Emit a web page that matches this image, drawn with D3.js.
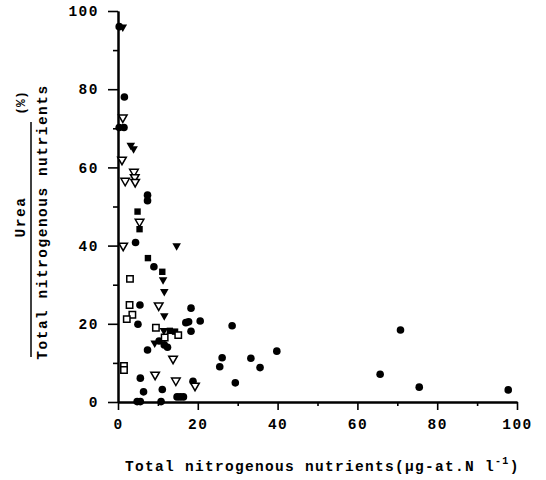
<!DOCTYPE html>
<html><head><meta charset="utf-8">
<script src="https://cdn.jsdelivr.net/npm/d3@7"></script>
<style>
body{margin:0;background:#fff;}
text{font-family:"Liberation Mono","DejaVu Sans Mono",monospace;font-weight:bold;fill:#000;}
</style></head>
<body><svg id="c" width="546" height="480"></svg>
<script>
// ---- data (x: total nitrogenous nutrients, y: urea %) ----
const filledCircles = [
  [0.3,96.0],[1.6,78.0],[0.3,70.2],[1.5,70.2],[7.4,52.9],[7.4,51.5],[4.4,40.8],[9.0,34.6],
  [5.5,24.8],[18.3,24.0],[5.0,19.9],[17.0,20.3],[17.7,20.5],[20.6,20.7],[18.3,18.1],
  [10.3,15.6],[11.6,14.6],[12.4,14.0],[7.4,13.3],[28.6,19.5],[26.1,11.3],[25.5,9.0],
  [33.3,11.2],[35.6,8.8],[39.8,13.0],[29.4,4.9],[65.7,7.1],[70.8,18.4],[75.5,3.8],[97.8,3.1],
  [5.6,6.1],[6.4,2.6],[11.1,3.2],[18.8,5.3],[4.8,0.1],[5.6,0.1],[10.8,0.1],
  [14.8,1.3],[15.6,1.3],[16.4,1.3]
];
const filledSquares = [[4.9,48.7],[5.4,44.2],[7.5,36.8],[11.1,33.3],[13.0,18.2],[14.3,18.0]];
const openSquares = [[3.0,31.5],[2.9,24.8],[3.6,22.3],[2.2,21.2],[9.5,19.0],[15.1,17.1],[11.7,16.5],[1.5,9.2],[1.5,8.2]];
const filledTriangles = [[1.2,95.6],[3.2,65.4],[3.9,64.5],[14.7,39.7],[11.3,31.0],[11.6,28.0],[11.6,21.8],[9.2,14.8],[11.5,18.0]];
const openTriangles = [[1.2,72.5],[1.0,61.7],[4.0,58.6],[4.2,57.2],[4.3,56.0],[1.8,56.3],[5.4,45.8],[1.3,39.7],[10.2,24.4],[13.8,10.8],[9.3,6.7],[14.5,5.2],[19.3,3.9]];
const xMajorTicks = [0,20,40,60,80,100];
const xMinorTicks = [10,30,50,70,90];
const yMajorTicks = [0,20,40,60,80,100];
const yMinorTicks = [10,30,50,70,90];

const svg = d3.select("#c");
const x = d3.scaleLinear().domain([0,100]).range([118,517]);
const y = d3.scaleLinear().domain([0,100]).range([402,11]);

// axes
const xAx = svg.append("g").attr("transform","translate(0,402)")
  .call(d3.axisBottom(x).tickValues(xMajorTicks).tickSize(8).tickSizeOuter(0).tickPadding(9));
svg.append("g").attr("transform","translate(0,402)")
  .call(d3.axisBottom(x).tickValues(xMinorTicks).tickSize(4).tickSizeOuter(0).tickFormat(""));
const yAx = svg.append("g").attr("transform","translate(118,0)")
  .call(d3.axisLeft(y).tickValues(yMajorTicks).tickSize(10).tickSizeOuter(0).tickPadding(9));
svg.append("g").attr("transform","translate(118,0)")
  .call(d3.axisLeft(y).tickValues(yMinorTicks).tickSize(5).tickSizeOuter(0).tickFormat(""));
svg.selectAll(".domain").attr("stroke","#000").attr("stroke-width",2);
svg.selectAll(".tick line").attr("stroke","#000").attr("stroke-width",1.6);
svg.selectAll(".tick text").style("font-size","14.5px").style("letter-spacing","1.5px");

// marks
const tri = "M-4.3,-3.6L4.3,-3.6L0,3.9Z";
const sqF = "M-3.2,-3.2h6.4v6.4h-6.4Z";
const sqO = "M-3.2,-3.2h6.4v6.4h-6.4Z";
const g = svg.append("g");
g.selectAll(".fc").data(filledCircles).join("circle")
  .attr("cx",d=>x(d[0])).attr("cy",d=>y(d[1])).attr("r",3.8).attr("fill","#000");
g.selectAll(".fs").data(filledSquares).join("path")
  .attr("d",sqF).attr("transform",d=>`translate(${x(d[0])},${y(d[1])})`).attr("fill","#000");
g.selectAll(".os").data(openSquares).join("path")
  .attr("d",sqO).attr("transform",d=>`translate(${x(d[0])},${y(d[1])})`)
  .attr("fill","#fff").attr("stroke","#000").attr("stroke-width",1.5);
g.selectAll(".ft").data(filledTriangles).join("path")
  .attr("d",tri).attr("transform",d=>`translate(${x(d[0])},${y(d[1])})`).attr("fill","#000");
g.selectAll(".ot").data(openTriangles).join("path")
  .attr("d",tri).attr("transform",d=>`translate(${x(d[0])},${y(d[1])})`)
  .attr("fill","#fff").attr("stroke","#000").attr("stroke-width",1.5);

// x label
const xl = svg.append("text").attr("x",125).attr("y",471)
  .style("font-size","14.5px").style("letter-spacing","1.3px");
xl.append("tspan").text("Total nitrogenous nutrients(μg-at.N l");
xl.append("tspan").attr("dy",-7).style("font-size","10px").text("-1");
xl.append("tspan").attr("dy",7).text(")");

// y label (fraction)
svg.append("text").attr("transform","translate(25,217) rotate(-90)")
  .attr("text-anchor","middle").style("font-size","14.5px").style("letter-spacing","1.5px").text("Urea");
svg.append("line").attr("x1",31).attr("x2",31).attr("y1",122).attr("y2",357)
  .attr("stroke","#000").attr("stroke-width",1.5);
svg.append("text").attr("transform","translate(47,222) rotate(-90)")
  .attr("text-anchor","middle").style("font-size","14.5px").style("letter-spacing","1.5px").text("Total nitrogenous nutrients");
svg.append("text").attr("transform","translate(25,103) rotate(-90)")
  .attr("text-anchor","middle").style("font-size","13px").text("(%)");
</script></body></html>
